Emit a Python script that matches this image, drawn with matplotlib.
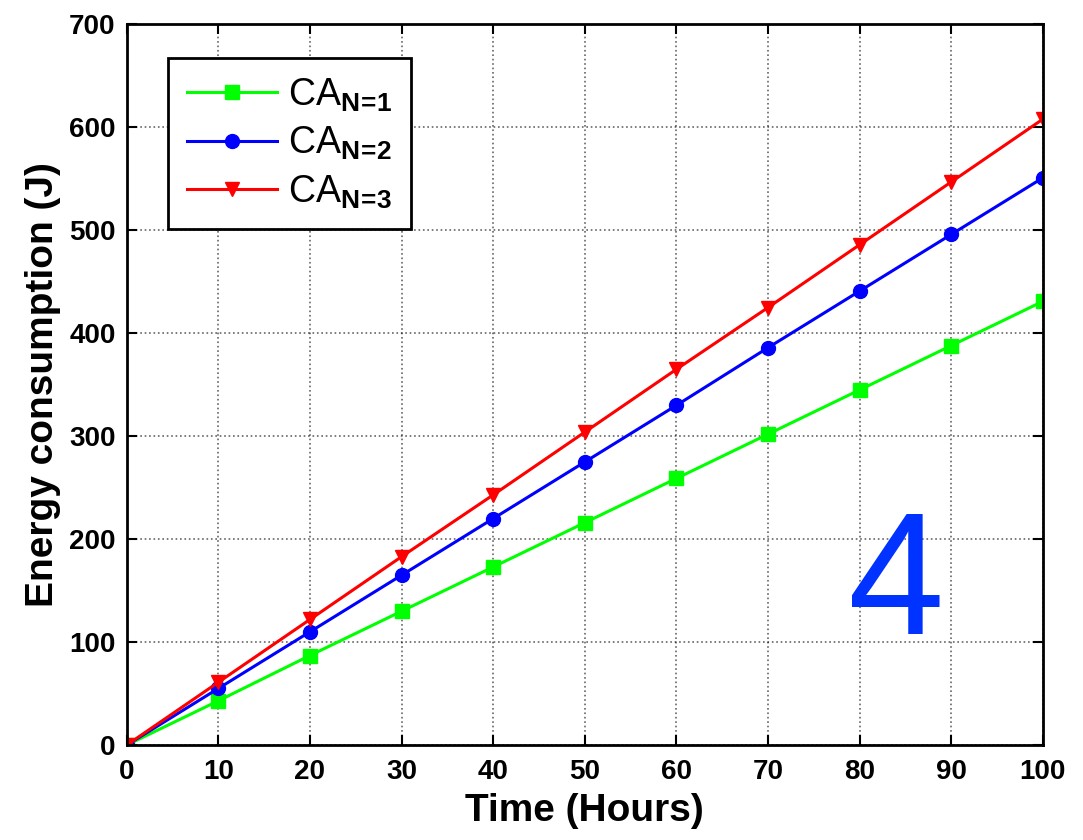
import numpy as np
import matplotlib.pyplot as plt

plt.rcParams['font.family'] = ['Liberation Sans', 'DejaVu Sans']
plt.rcParams['mathtext.fontset'] = 'custom'
plt.rcParams['mathtext.rm'] = 'Liberation Sans'
plt.rcParams['mathtext.bf'] = 'Liberation Sans:bold'

hours = [0, 10, 20, 30, 40, 50, 60, 70, 80, 90, 100]
ca_n1 = [0, 43, 87, 130, 173, 216, 259, 302, 345, 388, 431]
ca_n2 = [0, 55, 110, 165, 220, 275, 330, 386, 441, 496, 551]
ca_n3 = [0, 61, 122, 183, 243, 304, 365, 425, 486, 547, 608]

fig = plt.figure(figsize=(10.83, 8.4), dpi=100)
ax = fig.add_axes([0.117, 0.113, 0.846, 0.858])

ax.plot(hours, ca_n1, '-s', color='#00ff00', lw=2.2, ms=10, label=r'CA$_{\mathbf{N\!=\!1}}$')
ax.plot(hours, ca_n2, '-o', color='#0000ff', lw=2.2, ms=10, label=r'CA$_{\mathbf{N\!=\!2}}$')
ax.plot(hours, ca_n3, '-v', color='#ff0000', lw=2.2, ms=10, label=r'CA$_{\mathbf{N\!=\!3}}$')

ax.set_xlim(0, 100)
ax.set_ylim(0, 700)
ax.set_xticks(np.arange(0, 101, 10))
ax.set_yticks(np.arange(0, 701, 100))
ax.tick_params(direction='in', length=7, width=1.5, top=True, right=True, labelsize=20)
ax.tick_params(axis='x', pad=10)
ax.tick_params(axis='y', pad=8)
for lab in ax.get_xticklabels() + ax.get_yticklabels():
    lab.set_fontweight('bold')
for s in ax.spines.values():
    s.set_linewidth(2)

ax.grid(True, linestyle=':', color='black', lw=1.2, alpha=0.6)

ax.set_xlabel('Time (Hours)', fontsize=28, fontweight='bold', labelpad=6)
ax.set_ylabel('Energy consumption (J)', fontsize=28, fontweight='bold', labelpad=6)

leg = ax.legend(loc='upper left', bbox_to_anchor=(0.045, 0.954), fontsize=27,
                fancybox=False, framealpha=1, edgecolor='black', borderaxespad=0,
                handlelength=2.4, handletextpad=0.3, labelspacing=0.3, borderpad=0.5)
leg.get_frame().set_linewidth(2)

ax.text(84, 152, '4', color='#0033ff', fontsize=125, ha='center', va='center')

fig.savefig('out.png', dpi=100)
